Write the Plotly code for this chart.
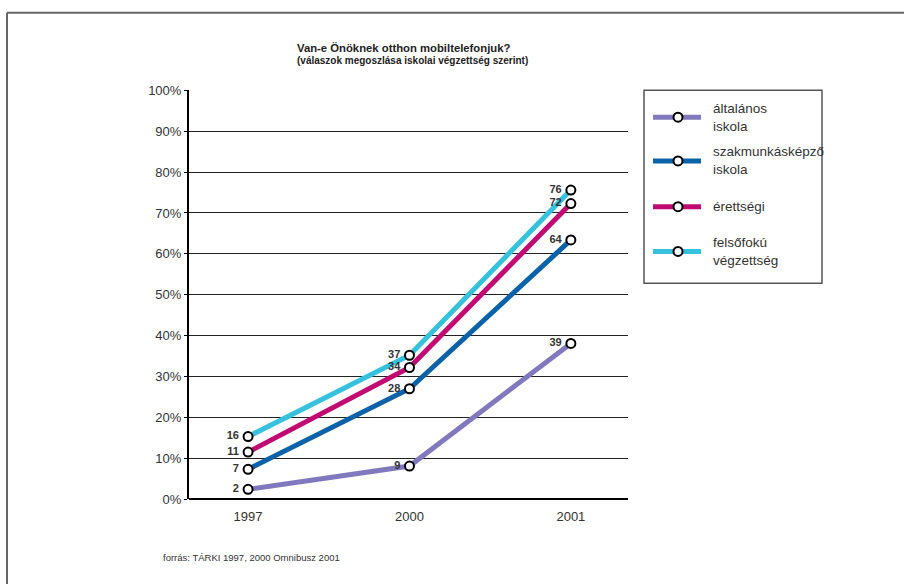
import plotly.graph_objects as go

W, H = 904, 584

# ---- data ----
years = ["1997", "2000", "2001"]
series_names = ["általános<br>iskola", "szakmunkásképző<br>iskola", "érettségi", "felsőfokú<br>végzettség"]
alt_values = [2.4, 8.1, 38.1]
szak_values = [7.3, 27.0, 63.4]
eret_values = [11.5, 32.2, 72.3]
felso_values = [15.3, 35.2, 75.6]
alt_labels = ["2", "9", "39"]
szak_labels = ["7", "28", "64"]
eret_labels = ["11", "34", "72"]
felso_labels = ["16", "37", "76"]
y_ticks = [0, 10, 20, 30, 40, 50, 60, 70, 80, 90, 100]
y_ticktext = [f"{v}%" for v in y_ticks]

colors = ["#8079bd", "#0a62a9", "#c20b72", "#36c2dc"]
all_values = [alt_values, szak_values, eret_values, felso_values]
all_labels = [alt_labels, szak_labels, eret_labels, felso_labels]

FONT = "Liberation Sans, Arial, sans-serif"
TXT = "#333333"

def px(x):
    return x / W

def py(y):
    # pixel-from-top -> paper fraction (compensating observed vertical rendering)
    yin = (y - 4.2) / 0.9796
    return 1 - yin / H

fig = go.Figure()
xs = list(range(len(years)))
for vals, col in zip(all_values, colors):
    fig.add_trace(go.Scatter(
        x=xs, y=vals, mode="lines+markers",
        line=dict(color=col, width=5),
        marker=dict(size=9, color="white", line=dict(color="black", width=2)),
        showlegend=False, cliponaxis=False, hoverinfo="skip",
    ))
for vals, labs in zip(all_values, all_labels):
    fig.add_trace(go.Scatter(
        x=xs, y=vals, mode="markers+text",
        text=labs, textposition="middle left",
        textfont=dict(family=FONT, size=11, color=TXT, weight="bold"),
        marker=dict(size=13, opacity=0),
        showlegend=False, cliponaxis=False, hoverinfo="skip",
    ))

shapes = []
annotations = []

# outer frame (top and left edges visible)
shapes.append(dict(type="line", xref="paper", yref="paper", x0=px(7), x1=px(910), y0=py(10), y1=py(10),
                   line=dict(color="#666666", width=2)))
shapes.append(dict(type="line", xref="paper", yref="paper", x0=px(7), x1=px(7), y0=py(10), y1=py(600),
                   line=dict(color="#666666", width=2)))

# legend box
shapes.append(dict(type="rect", xref="paper", yref="paper", x0=px(644), x1=px(822), y0=py(282), y1=py(88),
                   line=dict(color="#555555", width=1.5), fillcolor="rgba(0,0,0,0)"))
legend_y = [115, 159, 205, 250]
for name, col, ly in zip(series_names, colors, legend_y):
    shapes.append(dict(type="line", xref="paper", yref="paper", x0=px(653), x1=px(701), y0=py(ly), y1=py(ly),
                       line=dict(color=col, width=5)))
    shapes.append(dict(type="circle", xref="paper", yref="paper", xsizemode="pixel", ysizemode="pixel",
                       xanchor=px(678), yanchor=py(ly), x0=-4.5, x1=4.5, y0=-4.5, y1=4.5,
                       fillcolor="white", line=dict(color="black", width=2)))
    annotations.append(dict(xref="paper", yref="paper", x=px(711), y=py(ly), xanchor="left", yanchor="middle",
                            text=name, showarrow=False, align="left",
                            font=dict(family=FONT, size=13.5, color=TXT)))

# titles
annotations.append(dict(xref="paper", yref="paper", x=px(295), y=py(45), xanchor="left", yanchor="middle",
                        text="<b>Van-e Önöknek otthon mobiltelefonjuk?</b>", showarrow=False,
                        font=dict(family=FONT, size=11.3, color="#222222")))
annotations.append(dict(xref="paper", yref="paper", x=px(295), y=py(58), xanchor="left", yanchor="middle",
                        text="<b>(válaszok megoszlása iskolai végzettség szerint)</b>", showarrow=False,
                        font=dict(family=FONT, size=10, color="#222222")))
# footer
annotations.append(dict(xref="paper", yref="paper", x=px(161), y=py(558), xanchor="left", yanchor="middle",
                        text="forrás: TÁRKI 1997, 2000 Omnibusz 2001", showarrow=False,
                        font=dict(family=FONT, size=9.5, color=TXT)))

fig.update_layout(
    width=W, height=H,
    margin=dict(l=0, r=0, t=0, b=0),
    paper_bgcolor="white", plot_bgcolor="white",
    shapes=shapes, annotations=annotations,
    xaxis=dict(domain=[px(189), px(628)], range=[-0.366, 2.354],
               tickvals=xs, ticktext=years, showgrid=False, zeroline=False, showline=False,
               ticks="", tickfont=dict(family=FONT, size=13, color=TXT), ticklabelstandoff=8),
    yaxis=dict(domain=[py(499), py(88)], range=[0, 100],
               tickvals=y_ticks, ticktext=y_ticktext,
               showgrid=True, gridcolor="#222222", gridwidth=1,
               zeroline=True, zerolinecolor="black", zerolinewidth=2,
               showline=True, linecolor="black", linewidth=2,
               ticks="outside", ticklen=3, tickcolor="black", tickwidth=1,
               tickfont=dict(family=FONT, size=13, color=TXT)),
)

fig.write_html("out.html")
